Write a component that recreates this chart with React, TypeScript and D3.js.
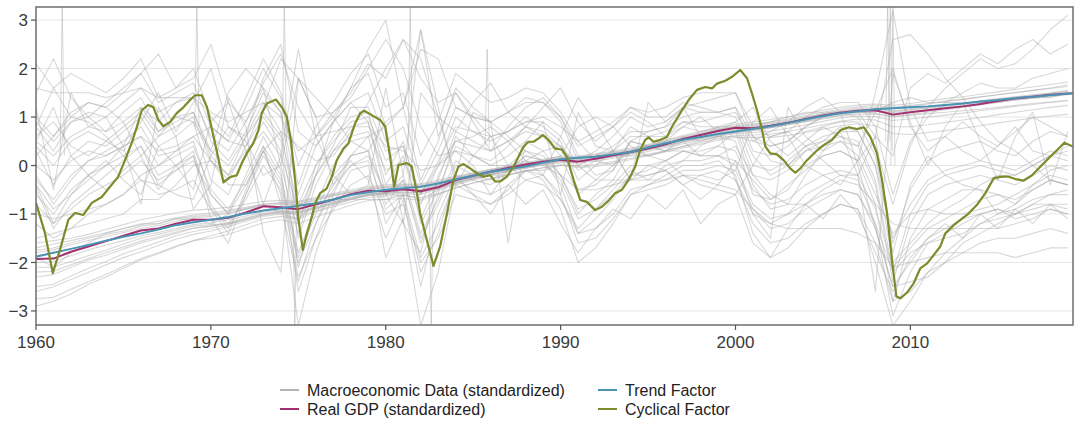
import React from "react";
import * as d3 from "d3";

// ---------- DATA ----------
const grayYears: number[] = d3.range(1960, 2020);

// trend-following macro series (annual)
const grayT1 = [-2.6,-2.5,-2.35,-2.2,-2.05,-1.9,-1.78,-1.65,-1.52,-1.42,-1.35,-1.26,-1.15,-1.05,-1.0,-0.98,-0.88,-0.78,-0.68,-0.6,-0.55,-0.52,-0.5,-0.42,-0.32,-0.24,-0.16,-0.08,0.0,0.07,0.12,0.13,0.17,0.22,0.28,0.36,0.44,0.52,0.6,0.67,0.73,0.77,0.82,0.88,0.95,1.02,1.08,1.12,1.14,1.1,1.14,1.18,1.22,1.26,1.3,1.35,1.4,1.44,1.48,1.52];
const grayT2 = [-2.9,-2.8,-2.65,-2.45,-2.3,-2.12,-1.95,-1.82,-1.68,-1.55,-1.45,-1.35,-1.22,-1.1,-1.05,-1.1,-0.95,-0.82,-0.7,-0.62,-0.6,-0.58,-0.6,-0.48,-0.36,-0.26,-0.18,-0.1,-0.03,0.04,0.1,0.08,0.12,0.18,0.25,0.33,0.42,0.5,0.58,0.66,0.72,0.74,0.78,0.85,0.92,1.0,1.06,1.1,1.08,1.0,1.05,1.1,1.15,1.2,1.25,1.3,1.35,1.4,1.44,1.48];
const grayT3 = [-1.75,-1.7,-1.6,-1.5,-1.42,-1.35,-1.25,-1.2,-1.1,-1.05,-1.02,-0.95,-0.88,-0.8,-0.78,-0.8,-0.7,-0.62,-0.55,-0.48,-0.45,-0.42,-0.45,-0.36,-0.26,-0.18,-0.1,-0.03,0.03,0.1,0.16,0.17,0.2,0.26,0.32,0.4,0.5,0.58,0.66,0.74,0.8,0.84,0.88,0.94,1.0,1.07,1.13,1.18,1.2,1.18,1.22,1.27,1.32,1.36,1.41,1.46,1.5,1.55,1.6,1.66];
const grayT4 = [-2.3,-2.25,-2.1,-1.95,-1.85,-1.72,-1.6,-1.5,-1.4,-1.3,-1.25,-1.2,-1.1,-1.0,-0.95,-0.98,-0.9,-0.8,-0.7,-0.62,-0.58,-0.55,-0.55,-0.45,-0.35,-0.27,-0.19,-0.12,-0.05,0.02,0.08,0.1,0.13,0.18,0.24,0.32,0.4,0.48,0.55,0.62,0.68,0.72,0.78,0.84,0.9,0.96,1.02,1.06,1.06,1.02,1.04,1.07,1.1,1.13,1.16,1.2,1.24,1.28,1.31,1.34];
const grayT5 = [-1.6,-1.55,-1.5,-1.42,-1.32,-1.22,-1.12,-1.05,-0.98,-0.92,-0.9,-0.86,-0.8,-0.74,-0.72,-0.74,-0.66,-0.58,-0.5,-0.44,-0.4,-0.38,-0.38,-0.3,-0.22,-0.15,-0.08,-0.01,0.06,0.13,0.19,0.2,0.24,0.3,0.36,0.44,0.53,0.62,0.7,0.78,0.85,0.9,0.95,1.0,1.07,1.14,1.2,1.25,1.27,1.24,1.28,1.33,1.38,1.42,1.47,1.52,1.57,1.62,1.67,1.72];
const grayT6 = [-2.1,-2.1,-1.98,-1.86,-1.75,-1.62,-1.5,-1.42,-1.33,-1.25,-1.22,-1.2,-1.12,-1.02,-0.96,-1.02,-0.95,-0.85,-0.75,-0.66,-0.63,-0.62,-0.66,-0.58,-0.46,-0.36,-0.28,-0.2,-0.12,-0.05,0.0,-0.04,-0.02,0.05,0.12,0.2,0.28,0.36,0.44,0.52,0.58,0.58,0.58,0.62,0.68,0.75,0.82,0.86,0.82,0.66,0.64,0.68,0.72,0.77,0.82,0.88,0.93,0.98,1.02,1.06];
const grayT7 = [-2.5,-2.45,-2.28,-2.12,-1.98,-1.82,-1.7,-1.58,-1.45,-1.36,-1.3,-1.22,-1.12,-1.02,-0.98,-0.95,-0.85,-0.76,-0.66,-0.58,-0.52,-0.5,-0.49,-0.4,-0.3,-0.22,-0.14,-0.06,0.01,0.08,0.14,0.14,0.18,0.24,0.31,0.39,0.48,0.56,0.64,0.72,0.79,0.82,0.86,0.92,0.99,1.06,1.12,1.16,1.17,1.12,1.15,1.19,1.24,1.28,1.33,1.38,1.42,1.46,1.5,1.55];
const grayT8 = [-2.0,-1.98,-1.86,-1.74,-1.64,-1.55,-1.45,-1.38,-1.3,-1.22,-1.18,-1.12,-1.04,-0.96,-0.92,-0.9,-0.82,-0.74,-0.66,-0.6,-0.56,-0.52,-0.5,-0.42,-0.33,-0.25,-0.17,-0.1,-0.04,0.03,0.09,0.11,0.14,0.19,0.25,0.33,0.41,0.49,0.56,0.63,0.69,0.73,0.78,0.84,0.91,0.98,1.04,1.09,1.12,1.08,1.11,1.15,1.19,1.23,1.27,1.31,1.35,1.39,1.42,1.46];
const grayT9 = [-1.7,-1.62,-1.55,-1.47,-1.38,-1.3,-1.22,-1.15,-1.08,-1.02,-0.98,-0.92,-0.86,-0.8,-0.76,-0.76,-0.68,-0.6,-0.53,-0.47,-0.43,-0.4,-0.4,-0.33,-0.24,-0.16,-0.08,-0.02,0.04,0.11,0.17,0.18,0.22,0.28,0.34,0.42,0.51,0.6,0.68,0.75,0.82,0.86,0.9,0.96,1.03,1.1,1.16,1.21,1.24,1.2,1.24,1.28,1.33,1.37,1.42,1.46,1.51,1.55,1.59,1.63];
const grayT10 = [-2.75,-2.72,-2.55,-2.4,-2.25,-2.08,-1.92,-1.8,-1.66,-1.55,-1.5,-1.42,-1.3,-1.18,-1.12,-1.2,-1.06,-0.94,-0.82,-0.72,-0.7,-0.68,-0.72,-0.6,-0.46,-0.36,-0.27,-0.19,-0.11,-0.04,0.02,-0.02,0.02,0.08,0.15,0.23,0.31,0.39,0.47,0.55,0.62,0.63,0.65,0.7,0.77,0.84,0.91,0.96,0.94,0.8,0.8,0.84,0.89,0.94,0.99,1.05,1.1,1.15,1.2,1.24];
const grayT11 = [-1.8,-1.74,-1.64,-1.55,-1.47,-1.38,-1.3,-1.24,-1.15,-1.08,-1.05,-0.98,-0.9,-0.83,-0.8,-0.8,-0.72,-0.63,-0.55,-0.5,-0.46,-0.43,-0.42,-0.34,-0.26,-0.18,-0.1,-0.04,0.02,0.09,0.15,0.15,0.19,0.24,0.3,0.38,0.47,0.55,0.62,0.69,0.75,0.79,0.84,0.9,0.97,1.04,1.1,1.15,1.17,1.13,1.17,1.21,1.25,1.29,1.33,1.37,1.41,1.45,1.49,1.53];
const grayT12 = [-2.2,-2.18,-2.05,-1.92,-1.8,-1.68,-1.56,-1.47,-1.37,-1.29,-1.25,-1.18,-1.08,-0.99,-0.94,-0.96,-0.87,-0.78,-0.69,-0.61,-0.57,-0.55,-0.56,-0.47,-0.37,-0.28,-0.2,-0.13,-0.06,0.01,0.06,0.06,0.09,0.15,0.21,0.29,0.37,0.45,0.52,0.6,0.66,0.68,0.71,0.77,0.84,0.91,0.98,1.02,1.01,0.93,0.96,1.0,1.04,1.08,1.13,1.17,1.22,1.26,1.3,1.34];

// cyclical macro series (annual)
const grayC1 = [-0.4,-1.2,-0.6,-0.3,0.0,0.4,1.2,0.9,1.3,1.5,0.5,0.1,0.7,1.5,1.1,-1.2,-0.2,0.4,1.2,1.2,0.3,0.4,-1.2,-0.5,0.4,0.2,0.1,0.4,0.8,0.7,0.4,-0.5,-0.4,-0.1,0.5,0.7,0.8,1.2,1.3,1.4,1.5,0.6,0.1,0.0,0.3,0.5,0.8,0.7,0.0,-2.0,-1.6,-1.2,-0.9,-0.7,-0.4,-0.2,-0.2,0.0,0.2,0.3];
const grayC2 = [0.8,1.6,1.0,0.9,0.6,0.2,-0.3,-0.4,-0.6,-0.7,0.2,0.8,0.5,-0.2,0.0,1.8,1.4,1.0,0.5,0.3,0.9,1.2,2.4,2.2,1.2,1.0,0.9,0.6,0.3,0.1,0.2,0.8,1.0,0.8,0.4,0.2,0.1,-0.2,-0.4,-0.5,-0.6,0.0,0.6,0.7,0.4,0.1,-0.2,-0.2,0.6,2.6,2.7,2.3,1.8,1.4,0.9,0.5,0.3,0.0,-0.3,-0.4];
const grayC3 = [0.3,-0.4,0.2,0.5,0.4,0.7,1.0,0.4,0.6,0.9,-0.3,-0.6,0.2,0.9,0.3,-2.1,-0.8,0.0,0.5,0.6,-0.8,-0.3,-1.6,-0.6,0.6,0.2,0.0,0.2,0.5,0.3,-0.2,-1.0,-0.6,-0.3,0.3,0.2,0.3,0.6,0.5,0.6,0.5,-0.6,-0.7,-0.5,0.0,0.2,0.3,0.1,-0.8,-2.8,-1.5,-0.9,-0.7,-0.5,-0.5,-0.6,-0.8,-0.5,-0.3,-0.4];
const grayC4 = [1.0,0.6,1.1,1.3,1.2,1.5,1.9,1.3,1.5,1.7,0.8,0.5,1.2,2.0,1.4,-0.4,0.6,1.0,1.6,1.9,0.8,1.2,-0.3,0.5,1.6,1.2,0.9,1.1,1.4,1.3,0.9,0.1,0.3,0.6,1.0,0.8,0.9,1.2,1.1,1.1,1.2,0.3,0.2,0.4,0.7,0.8,0.9,0.9,0.2,-1.6,-0.5,0.1,0.3,0.4,0.5,0.3,0.2,0.5,0.7,0.6];
const grayC5 = [-0.2,-0.8,-0.3,0.1,0.3,0.5,0.8,0.2,0.3,0.5,-0.6,-1.0,-0.2,0.6,-0.1,-2.6,-1.5,-0.6,0.2,0.3,-1.2,-0.6,-2.2,-1.4,-0.2,-0.3,-0.4,-0.1,0.2,0.1,-0.4,-1.4,-1.1,-0.7,-0.2,-0.1,0.1,0.3,0.2,0.2,0.1,-1.0,-1.2,-1.0,-0.6,-0.4,-0.2,-0.3,-1.2,-3.1,-2.2,-1.6,-1.4,-1.2,-1.0,-0.9,-1.0,-0.8,-0.6,-0.5];
const grayC6 = [-1.0,-1.1,-1.0,-0.9,-0.8,-0.6,-0.2,0.0,0.3,0.6,0.8,0.5,0.4,1.2,2.2,1.8,1.0,1.1,1.4,2.0,2.6,2.0,0.8,0.2,0.3,0.0,-0.6,-0.1,0.1,0.3,0.4,0.0,-0.3,-0.3,-0.3,-0.2,-0.1,-0.4,-0.7,-0.4,0.1,-0.3,-0.7,-0.4,-0.1,0.2,0.3,0.1,0.6,-1.8,-0.4,0.2,-0.2,-0.4,-0.5,-1.0,-0.8,-0.4,-0.2,-0.3];
const grayC7 = [-1.5,-1.4,-1.3,-1.2,-1.1,-1.0,-0.7,-0.7,-0.4,0.0,0.1,-0.4,-0.4,0.3,0.7,0.4,0.1,0.2,0.7,1.3,2.0,2.6,1.8,1.3,1.5,1.0,0.6,0.7,0.9,1.0,0.8,0.5,0.1,0.0,0.3,0.4,0.3,0.3,0.2,0.2,0.4,-0.2,-0.6,-0.8,-0.8,-0.5,-0.3,-0.4,-0.8,-1.2,-1.3,-1.3,-1.3,-1.3,-1.3,-1.3,-1.2,-1.1,-0.9,-1.0];
const grayC8 = [0.5,1.2,0.2,-0.2,0.1,-0.3,-0.6,0.4,0.0,-0.5,0.9,1.3,0.3,-0.8,0.2,2.4,0.6,-0.2,-0.6,-0.4,1.6,-0.2,2.8,1.2,-0.4,0.2,0.6,0.0,-0.3,-0.2,0.6,1.4,0.9,0.3,-0.3,0.0,-0.1,-0.4,-0.2,-0.3,-0.1,0.9,1.2,0.6,0.0,-0.2,-0.4,0.1,1.5,3.2,1.2,0.5,0.6,0.3,0.1,0.4,0.8,0.3,0.2,0.4];
const grayC9 = [0.2,0.6,1.0,1.3,1.2,0.9,0.2,0.6,1.0,0.9,0.3,1.5,2.0,1.6,0.0,-1.4,-0.2,0.9,1.3,0.9,-0.6,-1.2,-1.8,-0.2,0.5,0.6,0.8,0.5,0.1,-0.2,-0.7,-1.3,-0.9,-0.5,-0.1,-0.3,0.0,0.1,0.4,0.6,0.6,0.5,0.7,0.9,1.2,1.4,1.1,0.0,-1.3,-2.5,-2.4,-2.3,-2.0,-1.6,-1.4,-1.2,-1.0,-0.8,-0.8,-0.9];
const grayC10 = [0.8,0.3,0.9,1.0,0.7,1.1,1.4,0.7,1.0,1.1,0.2,-0.2,0.6,1.3,0.7,-1.2,0.0,0.6,1.0,1.1,-0.2,0.5,-0.8,0.0,1.0,0.7,0.5,0.7,1.0,0.8,0.5,-0.3,0.0,0.3,0.8,0.6,0.6,0.9,0.8,0.8,0.9,0.0,-0.1,0.1,0.4,0.5,0.6,0.5,-0.3,-2.2,-1.0,-0.4,-0.2,-0.1,0.0,-0.1,-0.2,0.0,0.2,0.1];
const grayC11 = [0.0,-0.3,0.1,0.3,0.2,0.4,0.6,0.3,0.4,0.6,0.1,-0.2,0.3,0.7,0.2,-0.9,-0.2,0.3,0.6,0.7,-0.1,0.1,-0.6,0.0,0.5,0.4,0.3,0.5,0.7,0.6,0.4,-0.1,0.1,0.3,0.6,0.6,0.7,0.9,0.9,1.0,1.1,0.5,0.4,0.5,0.8,1.0,1.1,1.0,0.4,-0.8,0.4,1.2,1.6,1.9,2.2,2.0,2.1,2.4,2.8,3.1];
const grayC12 = [-0.6,-1.0,-0.5,-0.2,0.0,0.2,0.4,-0.2,0.0,0.2,-0.8,-1.3,-0.6,0.2,-0.4,-2.0,-1.2,-0.5,0.0,0.1,-0.9,-0.6,-1.9,-1.2,-0.3,-0.5,-0.6,-0.4,-0.1,-0.2,-0.6,-1.6,-1.5,-1.1,-0.6,-0.5,-0.4,-0.2,-0.2,-0.1,-0.3,-1.2,-1.6,-1.5,-1.2,-1.0,-0.8,-0.9,-1.6,-2.8,-2.6,-2.2,-2.0,-1.8,-1.6,-1.5,-1.5,-1.4,-1.3,-1.4];
const grayC13 = [2.1,1.6,1.9,1.7,1.5,1.8,2.2,1.4,1.6,2.0,1.0,0.6,1.4,2.2,1.5,0.0,0.8,1.3,1.9,2.3,1.2,1.5,0.2,0.9,1.9,1.6,1.3,1.4,1.6,1.5,1.1,0.5,0.7,0.9,1.2,1.0,1.0,1.3,1.2,1.1,1.0,0.2,-0.2,0.0,0.4,0.6,0.7,0.7,0.0,-1.5,-0.8,-0.3,-0.1,0.0,0.1,0.0,-0.1,0.1,0.3,0.2];
const grayC14 = [-0.5,-1.3,-0.8,-0.5,-0.2,0.1,0.4,-0.4,-0.1,0.2,-1.1,-1.6,-0.6,0.3,-0.6,-3.3,-1.8,-0.8,-0.1,0.0,-1.9,-1.1,-3.3,-2.2,-0.4,-0.6,-0.8,-0.5,-0.1,-0.3,-0.9,-2.0,-1.7,-1.2,-0.6,-0.4,-0.2,0.0,0.0,0.1,-0.2,-1.4,-1.9,-1.7,-1.3,-1.0,-0.8,-0.9,-2.0,-3.3,-2.8,-2.2,-1.8,-1.5,-1.2,-1.0,-0.9,-0.7,-0.6,-0.6];
const grayC15 = [0.4,0.0,0.5,0.7,0.5,0.8,1.1,0.6,0.8,1.0,0.1,-0.3,0.4,1.0,0.5,-1.5,-0.4,0.3,0.8,0.9,-0.4,0.2,-1.1,-0.3,0.7,0.5,0.3,0.5,0.8,0.6,0.2,-0.6,-0.3,0.0,0.5,0.4,0.5,0.8,0.7,0.8,0.8,-0.2,-0.3,-0.1,0.3,0.4,0.5,0.4,-0.4,-2.4,-1.2,-0.6,-0.4,-0.3,-0.2,-0.3,-0.4,-0.2,0.0,-0.1];
const grayC16 = [1.2,-0.5,1.5,0.8,1.0,0.4,-0.8,1.2,0.6,-0.9,-0.4,1.4,0.8,-1.4,-2.2,1.8,1.0,-0.4,0.2,0.6,0.8,-1.2,1.5,1.0,-0.2,1.1,0.9,-1.6,0.5,0.9,-0.6,1.1,0.4,0.3,-0.3,1.3,0.9,1.2,0.6,0.8,-0.3,-1.0,-1.5,1.2,0.6,0.3,0.7,-0.2,-2.6,1.9,0.9,0.0,0.8,1.3,0.5,-0.3,0.6,1.1,-0.4,0.7];
const grayC17 = [-0.3,-0.7,-0.2,0.1,0.2,0.4,0.6,0.0,0.2,0.4,-0.5,-0.9,-0.3,0.4,-0.2,-1.8,-0.9,-0.2,0.2,0.3,-0.6,-0.3,-1.5,-0.8,0.0,-0.2,-0.3,-0.1,0.2,0.1,-0.3,-1.1,-0.9,-0.6,-0.2,-0.2,-0.1,0.1,0.1,0.2,0.0,-0.8,-1.1,-1.0,-0.8,-0.6,-0.5,-0.6,-1.3,-2.5,-2.0,-1.5,-1.3,-1.1,-1.0,-0.9,-1.1,-1.0,-0.9,-1.0];
const grayC18 = [0.6,0.9,0.4,0.2,0.5,0.3,0.9,1.5,0.7,1.3,2.0,0.8,0.6,1.8,2.5,0.7,0.4,0.9,1.6,2.4,3.0,1.2,2.8,0.6,1.5,0.9,0.3,0.8,1.2,1.4,1.0,0.2,-0.2,-0.1,0.5,0.4,0.3,0.5,0.2,0.4,0.7,-0.4,-0.9,-0.8,-0.2,0.3,0.5,0.2,-0.6,-1.4,-1.0,-0.9,-1.0,-1.0,-0.9,-0.8,-0.6,-0.4,-0.1,0.0];
const grayC19 = [-1.2,-1.5,-1.3,-1.0,-0.8,-0.6,-0.3,-0.6,-0.5,-0.3,-0.9,-1.2,-0.7,0.0,-0.5,-2.3,-1.5,-0.9,-0.4,-0.2,-1.0,-0.8,-2.0,-1.5,-0.6,-0.7,-0.8,-0.6,-0.3,-0.4,-0.7,-1.4,-1.3,-1.0,-0.5,-0.4,-0.3,-0.1,-0.1,0.0,-0.1,-0.9,-1.3,-1.2,-0.9,-0.7,-0.5,-0.6,-1.2,-2.2,-1.8,-1.6,-1.5,-1.4,-1.2,-1.1,-1.0,-0.9,-0.8,-0.8];
const grayC20 = [0.9,0.5,0.9,1.1,1.0,1.3,1.6,1.1,1.3,1.4,0.6,0.3,0.9,1.6,1.1,-0.6,0.4,0.9,1.3,1.5,0.5,0.8,-0.4,0.3,1.2,1.0,0.9,1.1,1.3,1.3,1.0,0.4,0.6,0.8,1.2,1.1,1.2,1.4,1.5,1.5,1.5,0.8,0.6,0.7,1.0,1.2,1.3,1.3,0.8,-0.6,0.5,1.0,1.3,1.5,1.7,1.6,1.6,1.8,1.9,2.0];
const grayC21 = [-0.8,-1.2,-0.9,-0.6,-0.4,-0.2,0.1,-0.3,-0.1,0.1,-0.6,-1.0,-0.4,0.3,-0.3,-1.9,-1.0,-0.4,0.0,0.2,-0.6,-0.2,-1.4,-0.7,0.1,-0.1,-0.2,0.0,0.3,0.2,-0.2,-0.9,-0.7,-0.4,0.0,0.0,0.1,0.3,0.3,0.4,0.3,-0.5,-0.8,-0.7,-0.4,-0.2,-0.1,-0.2,-0.9,-2.1,-1.7,-1.3,-1.1,-0.9,-0.7,-0.6,-0.7,-0.5,-0.3,-0.4];
const grayC22 = [-1.9,-2.1,-1.8,-1.6,-1.4,-1.3,-1.2,-1.2,-1.1,-1.1,-1.2,-1.0,-0.9,-0.8,-1.0,-1.1,-0.8,-0.7,-0.7,-0.7,-0.7,-0.6,-0.7,-0.5,-0.4,-0.3,-0.2,-0.2,-0.1,-0.1,0.0,0.0,0.2,0.2,0.2,0.2,0.3,0.4,0.5,0.6,0.7,0.8,0.9,1.0,1.1,1.1,1.1,1.1,1.1,1.3,1.4,1.3,1.3,1.3,1.3,1.3,1.4,1.4,1.4,1.5];
const grayC23 = [1.6,1.5,1.5,1.5,1.4,1.5,1.6,1.4,1.4,1.4,1.1,0.9,1.1,1.3,1.0,0.3,0.6,0.7,0.8,0.8,0.4,0.3,-0.1,0.0,0.3,0.2,0.0,0.0,0.1,0.0,-0.2,-0.5,-0.5,-0.4,-0.3,-0.3,-0.3,-0.2,-0.3,-0.4,-0.5,-0.9,-1.2,-1.3,-1.3,-1.3,-1.3,-1.4,-1.6,-2.1,-2.0,-1.9,-1.8,-1.8,-1.8,-1.8,-1.9,-1.8,-1.7,-1.7];
const grayC24 = [1.5,2.2,1.4,1.0,1.3,1.6,1.9,2.3,1.6,1.8,2.5,1.3,0.9,1.7,2.3,1.2,0.6,1.1,1.5,2.1,1.8,2.6,2.2,1.0,0.7,1.3,1.7,1.1,0.8,1.2,1.6,0.9,0.5,0.8,1.1,0.9,0.6,0.8,1.0,0.7,0.9,1.2,0.5,0.2,0.5,0.8,0.6,0.4,1.1,2.0,0.8,0.3,0.6,0.9,0.6,0.4,0.7,1.0,0.8,0.6];
const grayC25 = [-0.4,-0.9,-0.6,-0.2,-0.5,-0.1,0.2,-0.5,0.0,0.3,-0.9,-1.4,-0.5,0.4,-0.8,-2.4,-1.2,-0.3,0.1,-0.3,-1.5,-0.7,-2.5,-1.0,-0.2,-0.6,-1.0,-0.4,-0.8,-0.5,-1.2,-1.8,-1.3,-0.9,-1.1,-0.6,-0.9,-0.5,-1.2,-0.8,-0.6,-1.6,-1.9,-1.3,-0.8,-1.1,-0.6,-1.0,-1.8,-2.6,-1.9,-1.5,-1.2,-1.5,-1.0,-1.3,-0.9,-1.2,-0.8,-1.1];
const grayC26 = [0.5,0.2,0.6,0.8,0.7,0.9,1.2,0.7,0.9,1.1,0.3,0.0,0.6,1.1,0.6,-0.8,0.0,0.5,0.9,1.0,0.1,0.4,-0.6,0.1,0.8,0.7,0.6,0.7,0.9,0.9,0.6,0.0,0.2,0.4,0.7,0.7,0.8,1.0,1.1,1.1,1.2,0.6,0.4,0.5,0.8,1.0,1.1,1.1,0.6,0.2,1.6,1.9,1.7,2.0,2.3,2.1,2.4,2.6,2.3,2.5];

const graySeries = [grayT1, grayT2, grayT3, grayT4, grayT5, grayT6, grayT7, grayT8, grayT9, grayT10, grayT11, grayT12,
  grayC1, grayC2, grayC3, grayC4, grayC5, grayC6, grayC7, grayC8, grayC9, grayC10, grayC11, grayC12, grayC13,
  grayC14, grayC15, grayC16, grayC17, grayC18, grayC19, grayC20, grayC21, grayC22, grayC23, grayC24, grayC25, grayC26];

// outlier spikes in individual macro series
const spikeYears = [1961.5, 1969.2, 1974.2, 1974.8, 1981.4, 1982.6, 1985.8, 2008.7, 2008.85, 2009.0];
const spikeBase = [0.2, 0.8, 0.5, -0.5, 0.3, -0.5, 0.4, 0.5, 0.3, 0.0];
const spikePeak = [3.4, 3.4, 3.4, -3.4, 3.4, -3.4, 2.4, 3.4, 3.4, 3.4];

// trend factor
const trendYears = [1960,1961,1962,1963,1964,1965,1966,1967,1968,1969,1970,1971,1972,1973,1974,1975,1976,1977,1978,1979,1980,1981,1982,1983,1984,1985,1986,1987,1988,1989,1990,1991,1992,1993,1994,1995,1996,1997,1998,1999,2000,2001,2002,2003,2004,2005,2006,2007,2008,2009,2010,2011,2012,2013,2014,2015,2016,2017,2018,2019.3];
const trendValues = [-1.88,-1.8,-1.72,-1.64,-1.55,-1.47,-1.4,-1.32,-1.23,-1.17,-1.12,-1.06,-0.99,-0.93,-0.88,-0.83,-0.78,-0.7,-0.61,-0.55,-0.5,-0.47,-0.44,-0.37,-0.29,-0.21,-0.13,-0.07,-0.02,0.06,0.13,0.16,0.18,0.23,0.28,0.37,0.46,0.53,0.59,0.65,0.7,0.76,0.81,0.88,0.95,1.02,1.08,1.12,1.16,1.18,1.2,1.22,1.25,1.28,1.32,1.35,1.39,1.42,1.45,1.49];

// real GDP
const gdpValues = [-1.93,-1.92,-1.78,-1.67,-1.56,-1.45,-1.34,-1.3,-1.2,-1.12,-1.12,-1.08,-0.97,-0.84,-0.86,-0.9,-0.8,-0.7,-0.59,-0.52,-0.53,-0.49,-0.53,-0.45,-0.3,-0.21,-0.13,-0.05,0.02,0.08,0.12,0.08,0.14,0.21,0.28,0.35,0.44,0.55,0.63,0.71,0.78,0.77,0.82,0.88,0.96,1.03,1.09,1.13,1.14,1.05,1.1,1.14,1.18,1.22,1.27,1.33,1.38,1.42,1.46,1.49];

// cyclical factor
const cycYears = [1960.0,1960.51,1960.96,1961.37,1961.85,1962.23,1962.71,1963.19,1963.76,1964.23,1964.69,1965.09,1965.47,1965.76,1966.05,1966.42,1966.71,1967.0,1967.28,1967.67,1968.05,1968.43,1968.81,1969.1,1969.48,1969.77,1970.24,1970.72,1971.1,1971.48,1971.77,1972.05,1972.43,1972.72,1972.91,1973.2,1973.73,1974.06,1974.34,1974.57,1974.82,1975.01,1975.26,1975.49,1975.77,1975.96,1976.25,1976.63,1976.92,1977.2,1977.58,1977.87,1978.25,1978.54,1978.76,1979.2,1979.68,1979.97,1980.25,1980.48,1980.73,1981.21,1981.49,1981.78,1981.97,1982.35,1982.73,1983.11,1983.5,1983.87,1984.16,1984.45,1984.83,1985.21,1985.59,1985.97,1986.26,1986.54,1986.93,1987.31,1987.59,1987.88,1988.16,1988.45,1988.74,1988.99,1989.31,1989.69,1990.07,1990.36,1990.74,1991.12,1991.5,1991.98,1992.36,1992.74,1993.12,1993.51,1993.88,1994.27,1994.55,1994.84,1995.03,1995.31,1995.7,1996.08,1996.37,1996.84,1997.32,1997.8,1998.27,1998.66,1998.94,1999.42,1999.8,2000.27,2000.66,2000.94,2001.23,2001.52,2001.71,2001.99,2002.37,2002.75,2003.13,2003.42,2003.71,2004.09,2004.57,2005.04,2005.52,2006.0,2006.48,2006.95,2007.33,2007.71,2008.09,2008.38,2008.67,2008.95,2009.2,2009.43,2009.81,2010.19,2010.57,2010.96,2011.33,2011.71,2012.0,2012.48,2012.86,2013.33,2013.81,2014.29,2014.77,2015.25,2015.62,2016.01,2016.48,2016.96,2017.44,2017.91,2018.39,2018.81,2019.3];
const cycValues = [-0.77,-1.39,-2.22,-1.74,-1.12,-0.98,-1.02,-0.77,-0.65,-0.44,-0.24,0.11,0.46,0.79,1.14,1.25,1.2,0.94,0.81,0.9,1.08,1.2,1.35,1.45,1.45,1.21,0.46,-0.35,-0.24,-0.2,0.05,0.25,0.46,0.73,1.08,1.28,1.36,1.2,1.01,0.53,-0.3,-1.12,-1.74,-1.4,-1.06,-0.78,-0.57,-0.47,-0.23,0.11,0.35,0.46,0.87,1.08,1.13,1.04,0.94,0.8,0.18,-0.44,0.01,0.05,-0.02,-0.57,-0.99,-1.54,-2.07,-1.67,-0.99,-0.3,-0.02,0.03,-0.06,-0.16,-0.23,-0.2,-0.33,-0.33,-0.23,-0.02,0.18,0.39,0.49,0.49,0.56,0.63,0.53,0.35,0.33,0.18,-0.3,-0.71,-0.75,-0.92,-0.85,-0.73,-0.57,-0.5,-0.3,-0.02,0.32,0.53,0.58,0.49,0.53,0.59,0.8,1.08,1.35,1.56,1.62,1.59,1.69,1.75,1.83,1.97,1.8,1.49,1.14,0.73,0.39,0.25,0.23,0.11,-0.06,-0.15,-0.06,0.11,0.28,0.42,0.53,0.73,0.79,0.75,0.79,0.59,0.25,-0.3,-0.99,-1.95,-2.7,-2.74,-2.62,-2.43,-2.12,-2.02,-1.85,-1.67,-1.4,-1.23,-1.12,-0.99,-0.81,-0.57,-0.26,-0.23,-0.23,-0.28,-0.31,-0.2,-0.02,0.15,0.32,0.47,0.39];

const xTicks = [1960, 1970, 1980, 1990, 2000, 2010];
const yTicks = [-3, -2, -1, 0, 1, 2, 3];

const legendItems = [
  { label: "Macroeconomic Data (standardized)", color: "#b4b4b4" },
  { label: "Trend Factor", color: "#4a93b4" },
  { label: "Real GDP (standardized)", color: "#a3306e" },
  { label: "Cyclical Factor", color: "#7a8c2c" },
];

// ---------- CHART ----------
const W = 1074, H = 427;
const M = { left: 36, right: 1073, top: 7, bottom: 325 };

export default function App() {
  const x = d3.scaleLinear().domain([1960, 2019.3]).range([M.left, M.right]);
  const y = d3.scaleLinear().domain([-3.29, 3.27]).range([M.bottom, M.top]);
  const line = d3.line<[number, number]>().x(d => x(d[0])).y(d => y(d[1]));
  const font = "'Liberation Sans', Arial, Helvetica, sans-serif";

  const grayPaths = graySeries.map(s => line(s.map((v, i) => [grayYears[i], v] as [number, number])));
  const spikePaths = spikeYears.map((yr, i) =>
    line([[yr - 0.12, spikeBase[i]], [yr, spikePeak[i]], [yr + 0.12, spikeBase[i]]]));
  const trendPath = line(trendYears.map((yr, i) => [yr, trendValues[i]] as [number, number]));
  const gdpPath = line(trendYears.map((yr, i) => [yr, gdpValues[i]] as [number, number]));
  const cycPath = line(cycYears.map((yr, i) => [yr, cycValues[i]] as [number, number]));

  return (
    <svg width={W} height={H} style={{ position: "absolute", left: 0, top: 0, background: "#fff" }} fontFamily={font}>
      <defs>
        <clipPath id="plot">
          <rect x={M.left} y={M.top} width={M.right - M.left} height={M.bottom - M.top} />
        </clipPath>
      </defs>
      <rect x={M.left} y={M.top} width={M.right - M.left} height={M.bottom - M.top} fill="#fff" />
      {yTicks.map(t => (
        <line key={t} x1={M.left} x2={M.right} y1={y(t)} y2={y(t)} stroke="#e6e6e6" strokeWidth={1} />
      ))}
      <g clipPath="url(#plot)" fill="none">
        {grayPaths.map((p, i) => (
          <path key={i} d={p || ""} stroke="#a9a9a9" strokeOpacity={0.45} strokeWidth={1.1} strokeLinejoin="round" />
        ))}
        {spikePaths.map((p, i) => (
          <path key={"s" + i} d={p || ""} stroke="#a9a9a9" strokeOpacity={0.45} strokeWidth={1} />
        ))}
        <path d={gdpPath || ""} stroke="#a3306e" strokeWidth={2} strokeLinejoin="round" />
        <path d={trendPath || ""} stroke="#4a93b4" strokeWidth={2} strokeLinejoin="round" />
        <path d={cycPath || ""} stroke="#7a8c2c" strokeWidth={2.2} strokeLinejoin="round" />
      </g>
      <rect x={M.left} y={M.top} width={M.right - M.left} height={M.bottom - M.top} fill="none" stroke="#777" strokeWidth={1.6} />
      {yTicks.map(t => (
        <g key={"y" + t}>
          <line x1={M.left - 5} x2={M.left} y1={y(t)} y2={y(t)} stroke="#555" strokeWidth={1.2} />
          <text x={M.left - 8} y={y(t)} dy="0.36em" textAnchor="end" fontSize={17} fill="#3a3a3a">
            {t < 0 ? "\u2212" + Math.abs(t) : String(t)}
          </text>
        </g>
      ))}
      {xTicks.map(t => (
        <g key={"x" + t}>
          <line x1={x(t)} x2={x(t)} y1={M.bottom} y2={M.bottom + 5} stroke="#555" strokeWidth={1.2} />
          <text x={x(t)} y={M.bottom + 23} textAnchor="middle" fontSize={17} fill="#3a3a3a">{t}</text>
        </g>
      ))}
      {legendItems.map((it, i) => {
        const col = i % 2, row = Math.floor(i / 2);
        const lx = col === 0 ? 280 : 598;
        const ly = 390 + row * 19;
        return (
          <g key={it.label}>
            <line x1={lx} x2={lx + 19} y1={ly} y2={ly} stroke={it.color} strokeWidth={2} />
            <text x={lx + 27} y={ly} dy="0.36em" fontSize={16} fill="#222">{it.label}</text>
          </g>
        );
      })}
    </svg>
  );
}
